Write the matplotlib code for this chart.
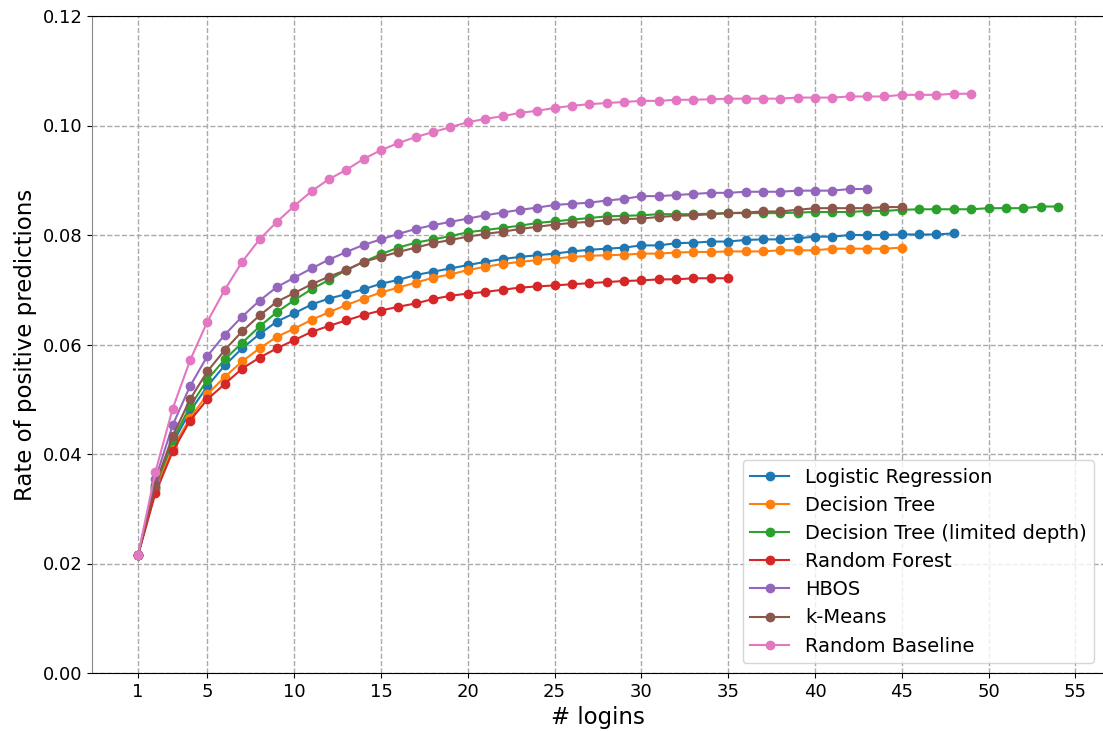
import matplotlib
matplotlib.use("Agg")
import matplotlib.pyplot as plt
import numpy as np

labels = ["Logistic Regression", "Decision Tree", "Decision Tree (limited depth)",
          "Random Forest", "HBOS", "k-Means", "Random Baseline"]

logistic_regression = [0.0215, 0.0338, 0.0420, 0.0478, 0.0524, 0.0562, 0.0593, 0.0619, 0.0642, 0.0657,
                       0.0673, 0.0684, 0.0692, 0.0701, 0.0711, 0.0718, 0.0727, 0.0733, 0.0739, 0.0745,
                       0.0751, 0.0756, 0.0760, 0.0763, 0.0766, 0.0770, 0.0773, 0.0775, 0.0777, 0.0781,
                       0.0781, 0.0785, 0.0786, 0.0788, 0.0788, 0.0791, 0.0792, 0.0792, 0.0794, 0.0797,
                       0.0797, 0.0800, 0.0800, 0.0800, 0.0801, 0.0801, 0.0801, 0.0803]
decision_tree = [0.0215, 0.0335, 0.0411, 0.0466, 0.0509, 0.0541, 0.0569, 0.0593, 0.0614, 0.0629,
                 0.0645, 0.0659, 0.0672, 0.0684, 0.0695, 0.0704, 0.0713, 0.0722, 0.0728, 0.0736,
                 0.0742, 0.0747, 0.0751, 0.0754, 0.0757, 0.0760, 0.0762, 0.0763, 0.0764, 0.0766,
                 0.0766, 0.0768, 0.0769, 0.0769, 0.0770, 0.0770, 0.0770, 0.0772, 0.0772, 0.0772,
                 0.0775, 0.0775, 0.0775, 0.0775, 0.0777]
decision_tree_limited = [0.0215, 0.0340, 0.0426, 0.0487, 0.0536, 0.0573, 0.0603, 0.0633, 0.0659, 0.0681,
                         0.0701, 0.0718, 0.0736, 0.0751, 0.0765, 0.0777, 0.0786, 0.0792, 0.0798, 0.0805,
                         0.0809, 0.0813, 0.0817, 0.0822, 0.0825, 0.0828, 0.0831, 0.0834, 0.0835, 0.0836,
                         0.0838, 0.0838, 0.0838, 0.0839, 0.0840, 0.0840, 0.0840, 0.0840, 0.0841, 0.0842,
                         0.0842, 0.0842, 0.0844, 0.0844, 0.0846, 0.0847, 0.0847, 0.0847, 0.0847, 0.0849,
                         0.0849, 0.0849, 0.0852, 0.0852]
random_forest = [0.0215, 0.0328, 0.0405, 0.0461, 0.0500, 0.0528, 0.0556, 0.0576, 0.0593, 0.0608,
                 0.0623, 0.0634, 0.0644, 0.0654, 0.0662, 0.0669, 0.0675, 0.0683, 0.0689, 0.0693,
                 0.0696, 0.0700, 0.0704, 0.0706, 0.0708, 0.0710, 0.0712, 0.0714, 0.0716, 0.0717,
                 0.0719, 0.0719, 0.0721, 0.0721, 0.0721]
hbos = [0.0215, 0.0354, 0.0453, 0.0524, 0.0579, 0.0618, 0.0651, 0.0680, 0.0705, 0.0722,
        0.0739, 0.0755, 0.0769, 0.0782, 0.0792, 0.0802, 0.0811, 0.0818, 0.0824, 0.0830,
        0.0836, 0.0841, 0.0846, 0.0850, 0.0855, 0.0857, 0.0859, 0.0863, 0.0866, 0.0871,
        0.0871, 0.0873, 0.0875, 0.0877, 0.0877, 0.0879, 0.0879, 0.0879, 0.0881, 0.0881,
        0.0881, 0.0884, 0.0884]
k_means = [0.0215, 0.0344, 0.0433, 0.0500, 0.0551, 0.0590, 0.0624, 0.0653, 0.0678, 0.0694,
           0.0710, 0.0724, 0.0736, 0.0751, 0.0760, 0.0769, 0.0777, 0.0785, 0.0791, 0.0797,
           0.0802, 0.0806, 0.0811, 0.0815, 0.0819, 0.0822, 0.0824, 0.0827, 0.0829, 0.0830,
           0.0833, 0.0835, 0.0836, 0.0838, 0.0840, 0.0841, 0.0843, 0.0843, 0.0846, 0.0849,
           0.0849, 0.0849, 0.0849, 0.0851, 0.0851]
random_baseline = [0.0215, 0.0367, 0.0483, 0.0571, 0.0642, 0.0700, 0.0751, 0.0792, 0.0824, 0.0853,
                   0.0880, 0.0902, 0.0919, 0.0939, 0.0955, 0.0968, 0.0979, 0.0988, 0.0997, 0.1006,
                   0.1012, 0.1017, 0.1023, 0.1027, 0.1032, 0.1036, 0.1039, 0.1041, 0.1043, 0.1045,
                   0.1045, 0.1047, 0.1047, 0.1048, 0.1049, 0.1049, 0.1049, 0.1049, 0.1051, 0.1051,
                   0.1051, 0.1053, 0.1053, 0.1053, 0.1056, 0.1056, 0.1056, 0.1058, 0.1058]

series = [logistic_regression, decision_tree, decision_tree_limited, random_forest,
          hbos, k_means, random_baseline]

x_ticks = [1, 5, 10, 15, 20, 25, 30, 35, 40, 45, 50, 55]
y_ticks = [0.00, 0.02, 0.04, 0.06, 0.08, 0.10, 0.12]

fig = plt.figure(figsize=(11.03, 7.31), dpi=100)
ax = fig.add_axes([92 / 1103, 1 - 673 / 731, (1104 - 92) / 1103, (673 - 16) / 731])

for lab, vals in zip(labels, series):
    xs = np.arange(1, len(vals) + 1)
    ax.plot(xs, vals, marker='o', markersize=6, linewidth=1.5, label=lab)

ax.set_xlim(-1.65, 56.65)
ax.set_ylim(0, 0.12)
ax.set_xticks(x_ticks)
ax.set_yticks(y_ticks)
ax.set_yticklabels([f"{v:.2f}" for v in y_ticks])
ax.tick_params(labelsize=13)
ax.spines['left'].set_color('#888888')
ax.grid(True, linestyle='--', color='#aaaaaa', linewidth=1)
ax.set_axisbelow(True)
ax.set_xlabel("# logins", fontsize=16.5)
ax.set_ylabel("Rate of positive predictions", fontsize=16.5)
ax.legend(loc='lower right', fontsize=14, labelspacing=0.47)

fig.savefig("out.png", dpi=100)
